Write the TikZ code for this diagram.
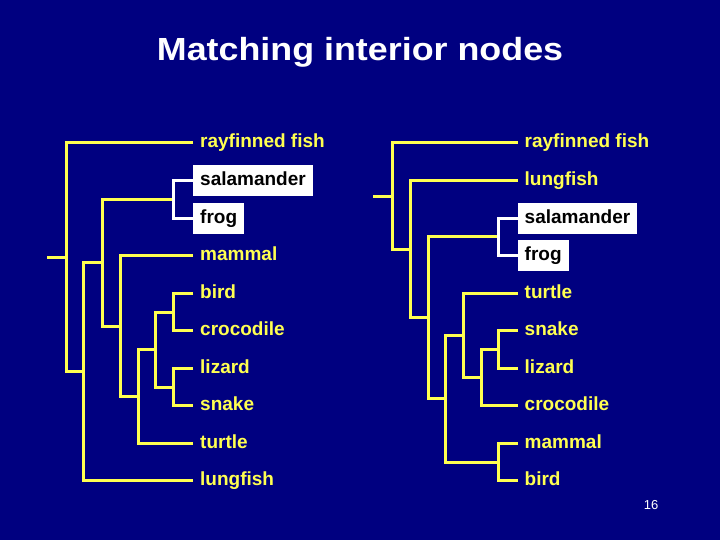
\documentclass[tikz,border=0pt]{standalone}
\usepackage{fontspec}
\setmainfont{Liberation Sans}
\newfontfamily\titlefont[FakeStretch=1.12]{Liberation Sans}
\definecolor{slidebg}{RGB}{0,0,128}
\definecolor{treeyellow}{RGB}{255,255,80}
\tikzset{
  branch/.style={draw=treeyellow, line width=3pt},
  pairbranch/.style={draw=white, line width=3pt},
  leaf/.style={anchor=west, text=treeyellow, inner xsep=7pt, inner ysep=6.5pt,
    text height=14pt, text depth=4pt, font=\bfseries\fontsize{19}{22}\selectfont},
  picked/.style={leaf, text=black, fill=white},
}

\begin{document}
\begin{tikzpicture}[x=1pt, y=-1pt]
    \fill[slidebg] (0,0) rectangle (720,540);
    \node[text=white, font=\titlefont\bfseries\fontsize{32}{38}\selectfont] (title) at (360,52) {Matching interior nodes};
    \node[text=white, font=\fontsize{13}{15}\selectfont] (pagenum) at (651,505) {16};
    % leaves
    \foreach \name/\kind [count=\i from 0] in {rayfinned fish/leaf, salamander/picked,
        frog/picked, mammal/leaf, bird/leaf, crocodile/leaf, lizard/leaf, snake/leaf,
        turtle/leaf, lungfish/leaf}
        \node[\kind] (L\i) at (193,143+37.55*\i) {\name};
    \foreach \name/\kind [count=\i from 0] in {rayfinned fish/leaf, lungfish/leaf,
        salamander/picked, frog/picked, turtle/leaf, snake/leaf, lizard/leaf,
        crocodile/leaf, mammal/leaf, bird/leaf}
        \node[\kind] (R\i) at (517.5,143+37.55*\i) {\name};
    % interior nodes, left tree
    \coordinate (lstub) at (47,257.4);
    \coordinate (lroot) at (66,257.4);
    \coordinate (l1) at (83,371.8);
    \coordinate (l2) at (102,262.7);
    \coordinate (lsf) at (173,199.4);
    \coordinate (l3) at (120,326);
    \coordinate (l4) at (138,396.5);
    \coordinate (l5) at (155,349.5);
    \coordinate (lbc) at (173,312);
    \coordinate (lls) at (173,387.1);
    % interior nodes, right tree
    \coordinate (rstub) at (373,196.1);
    \coordinate (rroot) at (392,196.1);
    \coordinate (r0) at (410,249.2);
    \coordinate (r1) at (428,317.9);
    \coordinate (rsf) at (498,236.9);
    \coordinate (r2) at (445,398.8);
    \coordinate (r3) at (463,335.5);
    \coordinate (r4) at (481,377.7);
    \coordinate (rsl) at (498,349.5);
    \coordinate (rmb) at (498,462.2);
    \draw[branch] (lstub) -- (lroot);
    \draw[branch] (L0.west) -| (lroot) |- (l1);
    \draw[branch] (l2) -| (l1) |- (L9.west);
    \draw[branch] (lsf) -| (l2) |- (l3);
    \draw[branch] (L3.west) -| (l3) |- (l4);
    \draw[branch] (l5) -| (l4) |- (L8.west);
    \draw[branch] (lbc) -| (l5) |- (lls);
    \draw[branch] (L4.west) -| (lbc) |- (L5.west);
    \draw[branch] (L6.west) -| (lls) |- (L7.west);
    \draw[pairbranch] (L1.west) -| (lsf) |- (L2.west);
    \draw[branch] (rstub) -- (rroot);
    \draw[branch] (R0.west) -| (rroot) |- (r0);
    \draw[branch] (R1.west) -| (r0) |- (r1);
    \draw[branch] (rsf) -| (r1) |- (r2);
    \draw[branch] (r3) -| (r2) |- (rmb);
    \draw[branch] (R4.west) -| (r3) |- (r4);
    \draw[branch] (rsl) -| (r4) |- (R7.west);
    \draw[branch] (R5.west) -| (rsl) |- (R6.west);
    \draw[branch] (R8.west) -| (rmb) |- (R9.west);
    \draw[pairbranch] (R2.west) -| (rsf) |- (R3.west);
\end{tikzpicture}
\end{document}
